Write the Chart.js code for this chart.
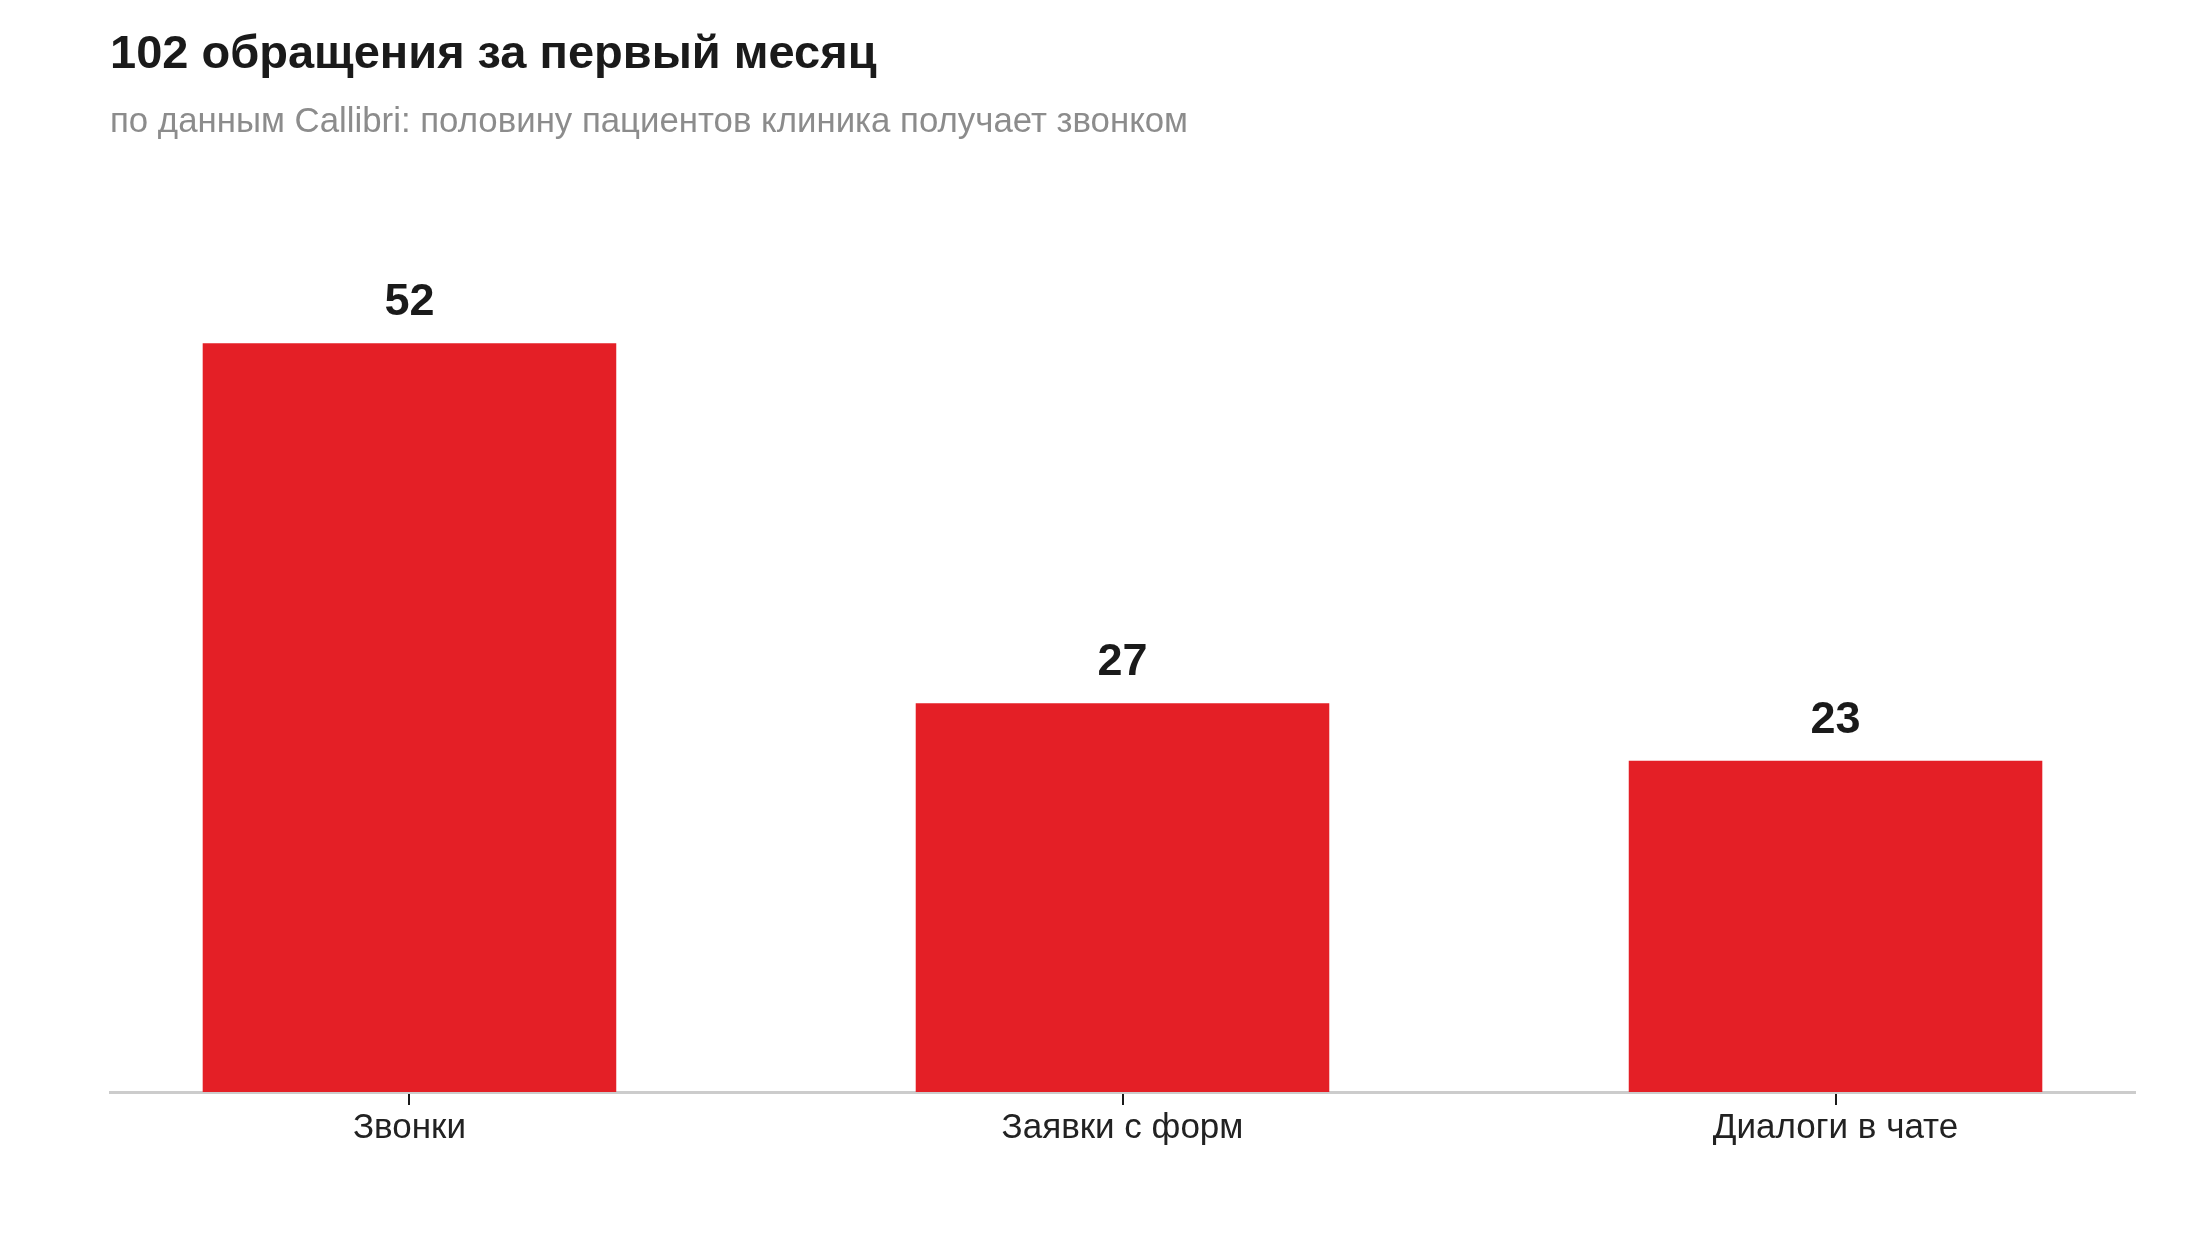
<!DOCTYPE html>
<html lang="ru">
<head>
<meta charset="utf-8">
<title>102 обращения за первый месяц</title>
<script src="https://cdn.jsdelivr.net/npm/chart.js@4/dist/chart.umd.min.js"></script>
<style>
    html, body { margin: 0; padding: 0; background: #fff; }
    #wrap { width: 2200px; height: 1240px; position: relative; }
</style>
</head>
<body>
<div id="wrap"><canvas id="chart"></canvas></div>
<script>
// Данные графика
const categories = ['Звонки', 'Заявки с форм', 'Диалоги в чате'];
const values = [52, 27, 23];
const titleText = '102 обращения за первый месяц';
const subtitleText = 'по данным Callibri: половину пациентов клиника получает звонком';

const FONT = '"Liberation Sans", Arial, Helvetica, sans-serif';

// Подписи значений над столбцами
const valueLabels = {
    id: 'valueLabels',
    afterDatasetsDraw(chart) {
        const ctx = chart.ctx;
        const meta = chart.getDatasetMeta(0);
        ctx.save();
        ctx.font = 'bold 45px ' + FONT;
        ctx.fillStyle = '#1a1a1a';
        ctx.textAlign = 'center';
        ctx.textBaseline = 'alphabetic';
        meta.data.forEach((bar, i) => {
            ctx.fillText(String(values[i]), bar.x, bar.y - 28);
        });
        ctx.restore();
    }
};

new Chart(document.getElementById('chart'), {
    type: 'bar',
    data: {
        datasets: [{
            data: values.map((v, i) => ({ x: i, y: v })),
            backgroundColor: '#e41f26',
            borderWidth: 0,
            categoryPercentage: 1,
            barPercentage: 0.58
        }]
    },
    options: {
        responsive: true,
        maintainAspectRatio: false,
        devicePixelRatio: 1,
        animation: false,
        layout: { padding: { left: 110, right: 65, top: 0, bottom: 89 } },
        plugins: {
            legend: { display: false },
            tooltip: { enabled: false },
            title: {
                display: true,
                text: titleText,
                align: 'start',
                color: '#1a1a1a',
                font: { family: FONT, size: 47, weight: 'bold', lineHeight: 1.2 },
                padding: { top: 27, bottom: 0 }
            },
            subtitle: {
                display: true,
                text: subtitleText,
                align: 'start',
                color: '#8c8c8c',
                font: { family: FONT, size: 34.8, weight: 'normal', lineHeight: 1.2 },
                padding: { top: 18, bottom: 85 }
            }
        },
        scales: {
            x: {
                type: 'linear',
                min: -0.42,
                max: 2.42,
                offset: false,
                grid: {
                    display: true,
                    offset: false,
                    drawOnChartArea: false,
                    drawTicks: true,
                    tickLength: 13,
                    color: '#1a1a1a',
                    lineWidth: 2
                },
                border: { display: true, color: '#cccccc', width: 3 },
                ticks: {
                    stepSize: 1,
                    includeBounds: false,
                    autoSkip: false,
                    maxRotation: 0,
                    padding: 2,
                    color: '#222',
                    font: { family: FONT, size: 35 },
                    callback: (v) => categories[v] ?? ''
                }
            },
            y: {
                display: false,
                min: 0,
                max: 60
            }
        }
    },
    plugins: [valueLabels]
});
</script>
</body>
</html>
